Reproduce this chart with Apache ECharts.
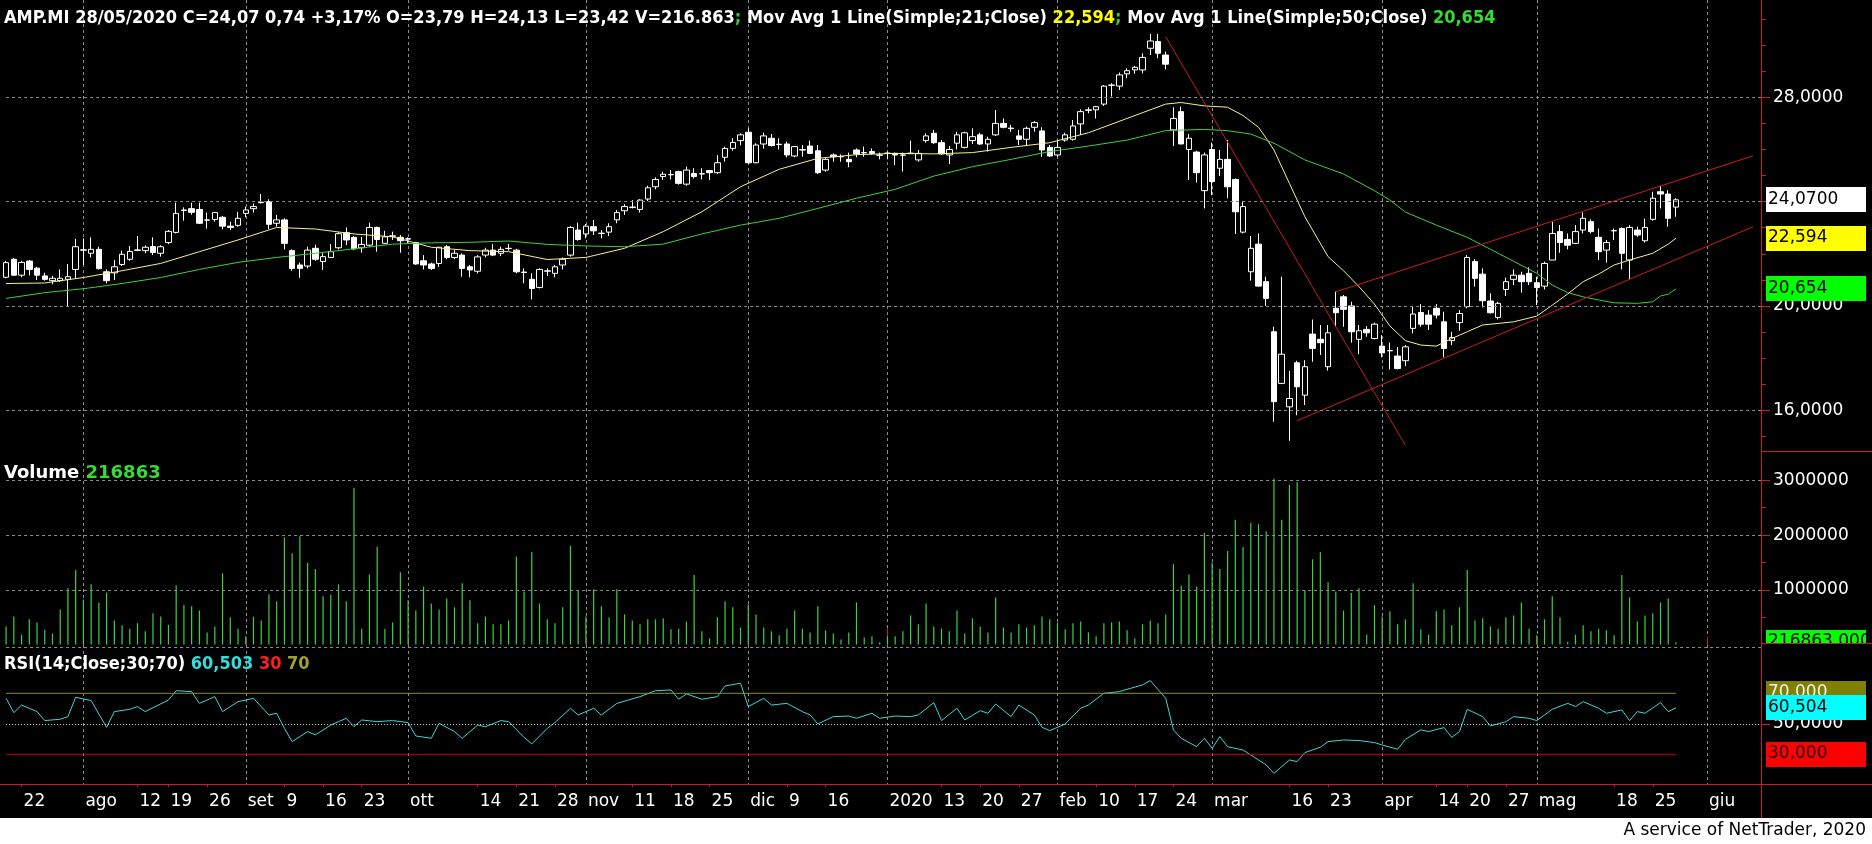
<!DOCTYPE html>
<html><head><meta charset="utf-8">
<script src="https://cdn.jsdelivr.net/npm/echarts/dist/echarts.min.js"></script>
<style>html,body{margin:0;padding:0;background:#000;overflow:hidden;}#c{width:1872px;height:844px;}</style>
</head><body><div id="c"></div>
<script>
// ---------- DATA ----------
const tradingDays = {
 '2019-07':[18,19,22,23,24,25,26,29,30,31],
 '2019-08':[1,2,5,6,7,8,9,12,13,14,16,19,20,21,22,23,26,27,28,29,30],
 '2019-09':[2,3,4,5,6,9,10,11,12,13,16,17,18,19,20,23,24,25,26,27,30],
 '2019-10':[1,2,3,4,7,8,9,10,11,14,15,16,17,18,21,22,23,24,25,28,29,30,31],
 '2019-11':[1,4,5,6,7,8,11,12,13,14,15,18,19,20,21,22,25,26,27,28,29],
 '2019-12':[2,3,4,5,6,9,10,11,12,13,16,17,18,19,20,23,27,30],
 '2020-01':[2,3,6,7,8,9,10,13,14,15,16,17,20,21,22,23,24,27,28,29,30,31],
 '2020-02':[3,4,5,6,7,10,11,12,13,14,17,18,19,20,21,24,25,26,27,28],
 '2020-03':[2,3,4,5,6,9,10,11,12,13,16,17,18,19,20,23,24,25,26,27,30,31],
 '2020-04':[1,2,3,6,7,8,9,14,15,16,17,20,21,22,23,24,27,28,29,30],
 '2020-05':[4,5,6,7,8,11,12,13,14,15,18,19,20,21,22,25,26,27,28]
};
const futureDays = ['2020-05-29','2020-05-30','2020-05-31','2020-06-01','2020-06-02','2020-06-03','2020-06-04','2020-06-05','2020-06-06','2020-06-07','2020-06-08'];

const tickLabels = [['2019-07-22','22'],['2019-08-01','ago'],['2019-08-12','12'],['2019-08-19','19'],['2019-08-26','26'],['2019-09-02','set'],['2019-09-09','9'],['2019-09-16','16'],['2019-09-23','23'],['2019-10-01','ott'],['2019-10-14','14'],['2019-10-21','21'],['2019-10-28','28'],['2019-11-01','nov'],['2019-11-11','11'],['2019-11-18','18'],['2019-11-25','25'],['2019-12-02','dic'],['2019-12-09','9'],['2019-12-16','16'],['2020-01-02','2020'],['2020-01-13','13'],['2020-01-20','20'],['2020-01-27','27'],['2020-02-03','feb'],['2020-02-10','10'],['2020-02-17','17'],['2020-02-24','24'],['2020-03-02','mar'],['2020-03-16','16'],['2020-03-23','23'],['2020-04-01','apr'],['2020-04-14','14'],['2020-04-20','20'],['2020-04-27','27'],['2020-05-04','mag'],['2020-05-18','18'],['2020-05-25','25'],['2020-06-01','giu']];
const monthStarts = ['2019-08-01','2019-09-02','2019-10-01','2019-11-01','2019-12-02','2020-01-02','2020-02-03','2020-03-02','2020-04-01','2020-05-04','2020-06-01'];
const yearStart = '2020-01-02';

const priceTicks = [16, 20, 24, 28];
const priceMinorTicks = [15,16,17,18,19,20,21,22,23,24,25,26,27,28,29,30,31];
const volTicks = [1000000, 2000000, 3000000];
const volMinorTicks = [500000, 1500000, 2500000];
const rsiTicks = [50];

const opens = [21.10,21.79,21.18,21.72,21.45,21.15,20.97,20.97,21.02,21.40,
22.15,22.02,22.17,21.31,21.27,21.59,21.79,22.13,22.12,22.28,
22.02,22.43,22.82,23.66,23.73,23.70,23.30,23.32,23.40,23.06,
23.09,23.55,23.73,23.96,24.00,23.17,23.30,22.12,21.57,21.53,
22.21,21.70,21.86,22.23,22.81,22.63,22.23,22.33,23.01,22.40,
22.67,22.63,22.56,22.43,21.73,21.61,21.63,22.27,21.86,21.95,
21.50,21.33,21.95,22.14,22.02,22.20,22.14,21.30,21.02,20.71,
21.33,21.25,21.57,21.95,22.91,22.76,23.04,22.78,22.83,23.30,
23.65,23.78,23.70,24.10,24.57,24.96,25.03,25.15,24.67,25.08,
25.06,25.19,25.11,25.70,26.04,26.34,26.66,25.49,26.21,26.43,
26.19,26.21,25.75,25.99,26.13,25.95,25.21,25.79,25.72,25.62,
25.98,25.87,25.92,25.79,25.85,25.85,25.78,25.84,25.60,26.34,
26.62,26.26,25.79,26.24,26.08,26.34,26.56,26.21,26.56,27.00,
26.82,26.52,26.39,26.85,26.71,26.08,25.79,26.36,26.39,26.98,
27.50,27.52,27.74,28.46,28.43,28.90,29.05,29.05,29.88,30.14,
29.62,26.75,27.45,26.00,25.90,24.42,26.00,25.28,25.62,24.85,
22.83,21.31,22.37,20.93,19.01,17.03,16.13,17.82,16.58,18.92,
18.72,17.67,19.91,20.35,20.00,18.72,19.10,18.75,18.46,18.28,
18.08,17.90,19.14,19.75,19.65,19.91,19.39,18.67,19.36,19.97,
21.70,21.22,20.19,19.56,20.63,21.02,21.18,21.25,20.89,20.76,
21.76,22.85,22.55,22.40,22.91,23.23,22.63,22.14,22.88,22.97,
21.76,22.91,22.50,23.32,24.38,24.29,23.79];
const closes = [21.66,21.18,21.67,21.40,21.18,21.02,21.06,21.06,21.12,22.27,
22.14,22.17,21.43,20.97,21.50,21.98,22.09,22.15,22.25,22.05,
22.27,22.86,23.55,23.68,23.59,23.17,23.29,23.58,23.06,23.01,
23.36,23.68,23.81,23.98,23.13,23.30,22.40,21.44,21.44,22.14,
21.79,21.89,22.08,22.77,22.53,22.19,22.36,23.01,22.55,22.65,
22.69,22.50,22.58,21.61,21.57,21.44,22.25,21.86,22.02,21.44,
21.38,21.88,22.14,21.95,22.17,22.21,21.31,21.28,20.67,21.40,
21.35,21.50,21.79,23.01,22.55,23.06,22.88,22.79,23.04,23.58,
23.81,23.79,24.06,24.53,24.85,25.05,25.04,24.70,25.21,24.96,
25.07,25.11,25.49,26.04,26.27,26.56,25.49,26.17,26.52,26.15,
26.20,25.79,26.11,25.98,25.85,25.11,25.62,25.72,25.73,25.53,
25.83,25.88,25.85,25.78,25.86,25.79,25.79,25.86,25.85,26.52,
26.26,25.83,26.00,26.56,26.64,26.49,26.21,26.39,27.00,26.85,
26.80,26.39,26.81,27.03,25.98,25.75,26.08,26.56,26.90,27.45,
27.52,27.64,28.43,28.47,28.86,29.02,29.15,29.53,30.16,29.69,
29.27,27.19,26.21,26.43,25.11,25.79,24.77,25.62,24.57,23.61,
23.81,22.21,20.76,20.29,16.33,18.15,16.45,16.90,17.67,18.37,
18.59,18.97,19.74,19.87,19.01,19.05,18.97,19.30,18.20,18.29,
17.60,18.43,19.69,19.30,19.30,19.65,18.37,18.79,19.71,21.86,
21.06,20.20,19.74,20.10,20.93,21.18,20.93,20.93,20.71,21.63,
22.78,22.43,22.33,22.85,23.36,22.85,22.08,22.43,22.89,22.02,
23.01,22.72,23.01,24.13,24.29,23.36,24.07];
const lows = [21.06,21.15,21.10,21.17,20.99,20.97,20.83,20.92,19.97,21.04,
21.57,21.86,21.40,20.87,20.99,21.53,21.73,22.10,22.02,21.95,
21.89,22.37,22.78,23.27,23.50,23.14,22.96,23.23,22.94,22.91,
23.04,23.40,23.58,23.93,22.94,23.04,22.17,21.35,21.08,21.44,
21.73,21.38,21.86,22.17,22.33,22.14,22.04,22.27,22.08,22.37,
22.53,22.04,22.40,21.58,21.40,21.38,21.50,21.79,21.79,21.12,
21.10,21.25,21.86,21.91,21.91,22.12,21.25,20.87,20.25,20.67,
21.15,21.10,21.40,21.89,22.50,22.59,22.72,22.59,22.68,23.17,
23.49,23.74,23.58,24.02,24.47,24.83,24.85,24.65,24.61,24.89,
24.85,24.83,25.06,25.53,25.95,26.16,25.44,25.47,26.03,26.11,
26.00,25.70,25.70,25.72,25.83,25.06,25.15,25.53,25.53,25.32,
25.70,25.72,25.79,25.62,25.62,25.40,25.15,25.83,25.53,26.26,
26.21,25.79,25.44,26.00,26.04,26.21,26.17,25.92,26.52,26.81,
26.68,26.17,26.17,26.68,25.72,25.72,25.72,26.30,26.34,26.56,
27.39,27.19,27.67,28.03,28.28,28.73,28.90,28.92,29.62,29.50,
29.07,26.13,26.21,24.83,24.73,23.74,24.25,24.98,24.13,22.76,
22.78,20.97,20.74,20.00,15.56,17.00,14.83,15.81,16.20,17.86,
18.12,17.52,19.20,19.20,18.59,18.15,18.82,18.72,18.03,17.57,
17.57,17.69,18.95,19.20,19.08,19.52,18.03,18.50,19.05,19.91,
20.74,19.94,19.71,19.48,20.38,20.80,20.51,20.80,20.03,20.63,
21.76,22.04,22.17,22.37,22.78,22.78,21.76,21.66,22.53,21.40,
21.02,22.65,22.43,23.27,23.74,23.04,23.42];
const highs = [21.73,21.84,21.73,21.76,21.50,21.27,21.15,21.40,21.61,22.57,
22.59,22.63,22.27,21.40,21.76,22.12,22.30,22.68,22.32,22.63,
22.33,22.91,23.96,23.78,23.96,23.96,23.58,23.61,23.45,23.23,
23.61,23.81,23.93,24.29,24.09,23.49,23.36,22.17,21.66,22.27,
22.35,22.02,22.37,22.83,23.01,22.68,22.65,23.19,23.04,22.88,
22.85,22.72,22.63,22.46,21.95,21.66,22.27,22.33,22.14,22.02,
21.57,21.95,22.23,22.37,22.27,22.37,22.19,21.44,21.25,21.44,
21.44,21.57,21.86,23.06,23.19,23.14,23.30,22.91,23.17,23.68,
23.90,24.06,24.09,24.61,24.93,25.15,25.21,25.19,25.34,25.28,
25.28,25.20,25.79,26.11,26.43,26.62,26.81,26.24,26.64,26.59,
26.43,26.30,26.13,26.17,26.34,26.17,25.70,25.85,25.81,25.88,
26.04,26.11,26.04,25.88,25.92,25.88,25.88,26.34,25.98,26.62,
26.75,26.36,26.13,26.68,26.68,26.81,26.64,26.49,27.51,27.19,
26.94,26.75,26.88,27.09,26.85,26.17,26.36,26.64,27.13,27.54,
27.62,27.67,28.47,28.54,28.95,29.11,29.20,29.69,30.43,30.43,
29.75,27.62,27.64,26.59,25.95,25.88,26.26,25.98,26.36,24.89,
24.00,22.68,22.78,21.12,19.20,21.12,17.51,17.90,17.92,19.48,
19.27,19.27,20.55,20.42,20.16,19.27,19.23,19.36,18.88,18.59,
18.43,18.50,19.97,20.07,19.84,20.07,19.78,19.01,19.84,21.95,
21.79,21.44,20.48,20.16,21.09,21.40,21.31,21.48,21.12,21.70,
23.23,23.10,22.78,23.10,23.58,23.32,22.97,22.53,22.97,23.01,
23.10,23.04,23.35,24.38,24.60,24.44,24.13];

const volumes = [330000,510000,180000,460000,400000,270000,200000,640000,1030000,1360000,
820000,1100000,770000,950000,440000,350000,290000,390000,240000,570000,
510000,360000,1080000,720000,700000,620000,220000,330000,1300000,500000,
290000,150000,510000,440000,920000,790000,1960000,1670000,1980000,1490000,
1380000,880000,910000,1100000,790000,2860000,290000,1280000,1780000,290000,
400000,1320000,810000,620000,1060000,750000,640000,840000,680000,1120000,
810000,390000,510000,370000,370000,440000,1610000,970000,1690000,750000,
460000,390000,680000,1800000,990000,510000,1010000,700000,500000,1010000,
550000,440000,370000,460000,460000,480000,280000,290000,420000,1270000,
240000,110000,500000,790000,680000,310000,730000,550000,310000,240000,
170000,290000,620000,290000,220000,700000,260000,200000,90000,220000,
770000,130000,150000,40000,150000,150000,240000,530000,370000,750000,
330000,290000,240000,620000,200000,480000,330000,220000,860000,310000,
220000,370000,310000,350000,510000,460000,400000,280000,390000,420000,
220000,150000,390000,400000,420000,260000,110000,370000,440000,390000,
550000,1470000,1080000,1280000,1060000,2040000,1500000,1380000,1710000,2280000,
1780000,2220000,2200000,2070000,3030000,2280000,2920000,2970000,990000,1560000,
1690000,1140000,970000,620000,940000,1030000,180000,720000,510000,610000,
370000,460000,1120000,280000,180000,610000,640000,350000,680000,1360000,
440000,480000,330000,290000,500000,530000,770000,290000,170000,460000,
880000,500000,50000,180000,350000,240000,290000,260000,170000,1270000,
860000,420000,530000,570000,770000,840000,40000];

const ma21Idx = [0,5,10,15,20,25,30,35,40,45,50,55,60,65,70,75,80,85,90,95,100,105,110,115,120,125,130,135,140,145,150,152,155,158,160,162,163,164,166,168,171,173,175,177,179,181,183,185,187,189,191,193,195,198,200,202,204,206,208,210,213,215,216];
const ma21Val = [20.86,20.88,21.09,21.35,21.63,22.08,22.53,23.01,22.95,22.76,22.65,22.25,22.12,22.08,21.78,21.86,22.21,22.85,23.61,24.57,25.24,25.66,25.80,25.85,25.83,25.88,26.08,26.26,26.64,27.19,27.74,27.80,27.67,27.62,27.30,26.85,26.43,25.98,24.70,23.42,21.89,21.35,20.74,20.07,19.23,18.67,18.50,18.46,18.75,19.01,19.27,19.33,19.39,19.61,20.03,20.46,20.93,21.22,21.57,21.76,22.02,22.37,22.594];
const ma50Idx = [0,5,10,15,20,25,30,35,40,45,50,55,60,65,70,75,80,85,90,95,100,105,110,115,120,125,130,135,140,145,150,155,158,161,164,168,173,177,179,181,185,189,193,198,200,202,204,206,208,211,213,214,215,216];
const ma50Val = [20.29,20.51,20.66,20.86,21.09,21.40,21.67,21.86,22.02,22.19,22.37,22.42,22.44,22.49,22.36,22.30,22.27,22.37,22.76,23.10,23.36,23.74,24.13,24.47,24.98,25.34,25.62,25.92,26.13,26.36,26.72,26.77,26.72,26.59,26.24,25.60,25.06,24.42,24.06,23.60,23.10,22.63,22.02,21.25,20.80,20.51,20.35,20.23,20.12,20.10,20.16,20.38,20.45,20.654];

const rsiIdx = [0,1,2,4,5,7,8,9,11,13,14,16,17,18,21,22,24,25,27,28,30,32,34,35,36,37,39,40,42,44,45,46,48,50,52,53,55,56,58,59,61,62,64,65,67,68,70,71,73,74,76,77,79,82,84,86,87,88,90,92,93,95,96,98,99,101,103,104,105,107,109,110,112,113,115,117,118,120,121,123,124,126,127,128,130,131,133,134,135,137,139,140,142,144,145,147,148,150,151,152,154,155,156,157,158,160,162,163,164,166,167,168,170,171,173,175,177,178,180,181,183,184,186,187,188,189,191,192,194,195,197,198,200,202,203,204,206,207,209,210,211,212,214,215,216];
const rsiVal = [66.7,57.3,62.3,58.0,52.1,53.0,54.7,67.4,65.2,47.7,58.0,59.5,61.3,58.0,65.6,71.7,71.1,63.4,67.8,58.0,64.5,66.7,55.8,56.9,47.0,38.3,44.9,42.7,49.2,53.6,48.1,52.5,51.4,52.1,50.8,42.0,40.5,50.3,44.9,40.5,49.2,48.1,52.1,51.4,41.1,36.8,47.0,50.8,60.2,55.8,60.2,55.8,63.4,67.8,71.7,72.2,66.1,69.6,66.1,67.8,74.8,76.6,61.3,66.7,62.3,63.4,58.0,55.8,49.9,54.7,55.1,53.6,56.9,53.6,55.1,54.7,55.8,63.9,52.1,60.2,52.5,58.6,56.9,63.0,54.7,62.3,55.8,47.7,45.5,49.9,60.2,62.3,70.0,71.1,72.6,75.5,78.3,66.7,46.0,40.5,35.0,40.5,33.9,41.6,35.0,32.8,26.3,23.0,17.5,26.3,25.2,31.1,34.6,38.3,39.4,39.0,37.7,36.1,33.3,39.8,46.0,44.9,47.5,41.1,44.9,59.5,54.7,48.6,51.4,54.7,53.6,52.1,59.5,63.4,61.3,64.5,60.2,56.9,59.1,52.1,58.0,56.9,63.9,58.0,60.5];
const rsiLevels = [70, 30];

const trendLines = [
  [[150, 30.32], [181, 14.66]],
  [[172, 20.54], [226, 25.76]],
  [[167, 15.60], [226, 23.04]]
];

const lastClose = 24.07, lastMa21 = 22.594, lastMa50 = 20.654, lastRsi = 60.504;

// ---------- CHART ----------
const FONT = 'DejaVu Sans';
const FONTC = 'DejaVu Sans Condensed';
const RED = '#c81e1e';
const GRIDC = '#8c8c8c';
const PMIN = 14.438, PMAX = 31.731;
const VMAX = 3537000;
const RMIN = 10.52, RMAX = 101.67;

const categories = [];
for (const ym in tradingDays) for (const d of tradingDays[ym]) categories.push(ym + '-' + String(d).padStart(2, '0'));
futureDays.forEach(d => categories.push(d));
const labelMap = Object.fromEntries(tickLabels);
const monthSet = new Set(monthStarts);
const nTrade = opens.length;

const chart = echarts.init(document.getElementById('c'), null, {renderer: 'canvas', width: 1872, height: 844});

const gridBase = {left: 6.1, right: 111, outerBoundsMode: 'none', containLabel: false};
const vSplit = {show: true, interval: (i, v) => monthSet.has(v), lineStyle: {color: GRIDC, type: [3, 3], width: 1}};
function xAx(grid, extra) {
  return Object.assign({type: 'category', gridIndex: grid, data: categories, boundaryGap: false,
    axisLine: {show: false}, axisTick: {show: false}, axisLabel: {show: false}, splitLine: {show: false}}, extra);
}
function yAx(grid, min, max, ticks, tickLen, fmt) {
  return {type: 'value', gridIndex: grid, position: 'right', min: min, max: max,
    splitLine: {show: false}, axisLine: {show: false},
    axisTick: {show: true, length: tickLen, customValues: ticks, lineStyle: {color: RED}},
    axisLabel: fmt ? {show: true, customValues: ticks, margin: 12, color: '#fff', fontFamily: FONT, fontSize: 17, formatter: fmt} : {show: false}};
}
const hline = (vals, color, type) => ({silent: true, symbol: ['none', 'none'], label: {show: false},
  lineStyle: {color: color, type: type, width: 1}, data: vals.map(v => ({yAxis: v}))});
const rs = (color, family, size) => ({color: color, fontFamily: family, fontSize: size});

const option = {
  animation: false,
  backgroundColor: '#000',
  textStyle: {fontFamily: FONT},
  title: [
    {left: 4, top: 9, padding: 0,
     text: '{w|AMP.MI 28/05/2020 C=24,07 0,74 +3,17% O=23,79 H=24,13 L=23,42 V=216.863}{g|;}{w| Mov Avg 1 Line(Simple;21;Close) }{y|22,594}{g|;}{w| Mov Avg 1 Line(Simple;50;Close) }{g2|20,654}',
     textStyle: {rich: {w: rs('#fff', FONTC, 18), g: rs('#33cc33', FONTC, 18), y: rs('#ffff00', FONTC, 18), g2: rs('#33dd33', FONTC, 18)}}},
    {left: 4, top: 464, padding: 0,
     text: '{w|Volume }{g|216863}',
     textStyle: {rich: {w: rs('#fff', FONT, 18), g: rs('#33dd33', FONT, 18)}}},
    {left: 4, top: 655, padding: 0,
     text: '{w|RSI(14;Close;30;70) }{c|60,503}{r| 30}{o| 70}',
     textStyle: {rich: {w: rs('#fff', FONTC, 18), c: rs('#33dddd', FONTC, 18), r: rs('#ff2020', FONTC, 18), o: rs('#a0a030', FONTC, 18)}}}
  ],
  grid: [
    Object.assign({top: 0, height: 451}, gridBase),
    Object.assign({top: 451, height: 193.5}, gridBase),
    Object.assign({top: 645, height: 139}, gridBase)
  ],
  xAxis: [
    xAx(0, {splitLine: vSplit}),
    xAx(1, {splitLine: vSplit}),
    xAx(2, {splitLine: vSplit,
      axisLabel: {show: true, interval: (i, v) => v in labelMap, formatter: v => labelMap[v] || '',
        color: '#fff', fontFamily: FONT, fontSize: 17, align: 'left', margin: 9, padding: [0, 0, 0, 2]},
      axisTick: {show: true, interval: (i, v) => (v in labelMap) && !monthSet.has(v), length: 3, lineStyle: {color: RED}}}),
    xAx(2, {axisTick: {show: true, interval: (i, v) => monthSet.has(v) && v !== yearStart, length: 8, lineStyle: {color: RED}}}),
    xAx(2, {axisTick: {show: true, interval: (i, v) => v === yearStart, length: 17, lineStyle: {color: RED}}})
  ],
  yAxis: [
    yAx(0, PMIN, PMAX, priceTicks, 9, v => Number(v).toFixed(4).replace('.', ',')),
    yAx(0, PMIN, PMAX, priceMinorTicks, 5, null),
    yAx(1, 0, VMAX, volTicks, 9, v => String(Math.round(v))),
    yAx(1, 0, VMAX, volMinorTicks, 5, null),
    yAx(2, RMIN, RMAX, rsiTicks, 9, v => Number(v).toFixed(4).replace('.', ','))
  ],
  series: [
    {type: 'candlestick', xAxisIndex: 0, yAxisIndex: 0, barWidth: 6, clip: false,
     data: opens.map((o, i) => [o, closes[i], lows[i], highs[i]]),
     itemStyle: {color: '#000', color0: '#fff', borderColor: '#fff', borderColor0: '#fff', borderWidth: 1},
     markLine: hline(priceTicks, GRIDC, [3, 3])},
    {type: 'line', xAxisIndex: 0, yAxisIndex: 0, data: ma21Idx.map((x, k) => [x, ma21Val[k]]),
     showSymbol: false, symbol: 'none', lineStyle: {color: '#f3f38a', width: 1}, z: 3},
    {type: 'line', xAxisIndex: 0, yAxisIndex: 0, data: ma50Idx.map((x, k) => [x, ma50Val[k]]),
     showSymbol: false, symbol: 'none', lineStyle: {color: '#3fcf3f', width: 1}, z: 3},
    ...trendLines.map((tl, k) => ({type: 'line', xAxisIndex: 0, yAxisIndex: 0, data: tl, clip: false,
      symbol: k === 0 ? 'rect' : 'none', showSymbol: k === 0, symbolSize: 6,
      itemStyle: {color: '#ffffff', borderColor: '#40ffff', borderWidth: 1},
      lineStyle: {color: RED, width: 1}, z: 4})),
    {type: 'bar', xAxisIndex: 1, yAxisIndex: 2, barWidth: 1.2, data: volumes,
     itemStyle: {color: '#3cd23c'}, markLine: hline(volTicks, GRIDC, [3, 3])},
    {type: 'line', xAxisIndex: 2, yAxisIndex: 4, data: rsiIdx.map((x, k) => [x, rsiVal[k]]),
     showSymbol: false, symbol: 'none', lineStyle: {color: '#3fd6d6', width: 1}, z: 3,
     markLine: {silent: true, symbol: ['none', 'none'], label: {show: false},
       data: [{yAxis: 100, lineStyle: {color: GRIDC, type: [3, 3], width: 1}},
              {yAxis: 50, lineStyle: {color: '#d8d8d8', type: [1, 2], width: 1}}]}},
    {type: 'line', xAxisIndex: 2, yAxisIndex: 4, data: [[0, rsiLevels[0]], [nTrade - 1, rsiLevels[0]]],
     symbol: 'none', lineStyle: {color: '#8a8a40', width: 1}},
    {type: 'line', xAxisIndex: 2, yAxisIndex: 4, data: [[0, rsiLevels[1]], [nTrade - 1, rsiLevels[1]]],
     symbol: 'none', lineStyle: {color: '#cc0000', width: 1}}
  ]
};
chart.setOption(option);

// ---------- right-side value boxes and frame ----------
const py = (ai, v) => chart.convertToPixel({yAxisIndex: ai}, v);
function box(y, fill, txt, txtColor, z) {
  return [
    {type: 'rect', z: z, shape: {x: 1766, y: Math.round(y - 12.5), width: 100, height: 25}, style: {fill: fill}},
    {type: 'text', z: z + 1, x: 1768, y: Math.round(y), style: {text: txt, fill: txtColor, font: '17px "DejaVu Sans"', textVerticalAlign: 'middle', verticalAlign: 'middle'}}
  ];
}
const g = [];
g.push({type: 'rect', z: 50, shape: {x: 0, y: 818, width: 1872, height: 26}, style: {fill: '#fff'}});
g.push({type: 'text', z: 51, x: 1866, y: 831, style: {text: 'A service of NetTrader, 2020', fill: '#000', font: '17px "DejaVu Sans"', align: 'right', textAlign: 'right', verticalAlign: 'middle', textVerticalAlign: 'middle'}});
g.push(...box(py(0, lastClose), '#ffffff', '24,0700', '#000', 60));
g.push(...box(py(0, lastMa21), '#ffff00', '22,594', '#000', 62));
g.push(...box(py(0, lastMa50), '#00ff00', '20,654', '#000', 64));
g.push(...box(py(2, volumes[nTrade - 1]), '#00ff00', '216863,000', '#000', 66));
g.push({type: 'rect', z: 68, shape: {x: 1762, y: 644, width: 110, height: 18}, style: {fill: '#000'}});
g.push(...box(py(4, rsiLevels[0]), '#808000', '70,000', '#f0f0f0', 70));
g.push(...box(py(4, lastRsi), '#00ffff', '60,504', '#000', 72));
g.push(...box(py(4, rsiLevels[1]), '#ff0000', '30,000', '#200000', 74));
const L = (x1, y1, x2, y2) => ({type: 'line', z: 90, shape: {x1: x1, y1: y1, x2: x2, y2: y2}, style: {stroke: RED, lineWidth: 1}});
g.push(L(1761.5, 0, 1761.5, 818));
g.push(L(0, 784.5, 1872, 784.5));
g.push(L(1761, 451.5, 1872, 451.5));
g.push(L(1761, 643.5, 1872, 643.5));
chart.setOption({graphic: g});
</script>
</body></html>
